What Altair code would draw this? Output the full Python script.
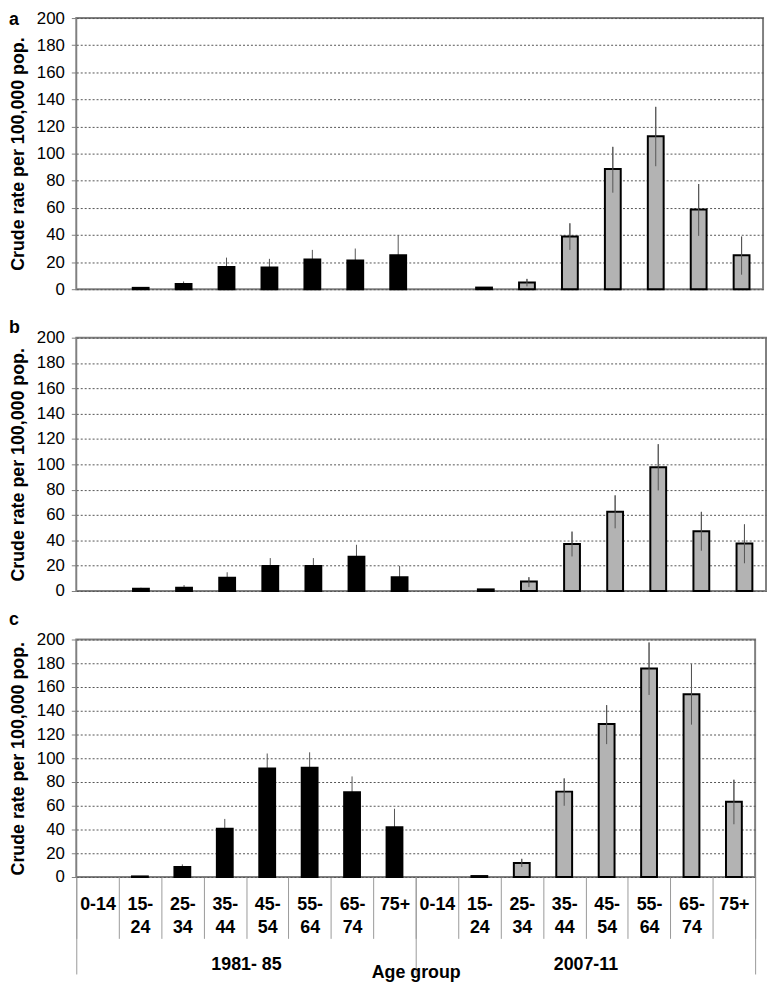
import json
import altair as alt
import pandas as pd

# ---------------- data ----------------
ages = ["0-14", "15-24", "25-34", "35-44", "45-54", "55-64", "65-74", "75+"]
periods = ["1981- 85", "2007-11"]
y_ticks = [0, 20, 40, 60, 80, 100, 120, 140, 160, 180, 200]

# panel a
a_rate_1981 = [None, 1.0, 3.8, 16.4, 16.0, 21.9, 21.2, 25.0]
a_hi_1981 = [None, 1.0, 5.7, 23.3, 22.4, 29.0, 30.0, 39.8]
a_lo_1981 = [None, 1.0, 1.9, 9.5, 9.6, 14.8, 12.4, 10.2]
a_rate_2007 = [None, 1.2, 5.0, 38.8, 88.6, 112.9, 58.8, 25.0]
a_hi_2007 = [None, 1.2, 7.6, 48.6, 105.0, 134.5, 77.6, 38.8]
a_lo_2007 = [None, 1.2, 2.1, 29.0, 71.2, 90.7, 39.3, 10.7]

# panel b
b_rate_1981 = [None, 1.8, 2.6, 10.4, 19.8, 19.8, 27.0, 10.9]
b_hi_1981 = [None, 2.6, 4.7, 14.8, 26.0, 26.0, 36.5, 19.8]
b_lo_1981 = [None, 1.0, 0.5, 6.0, 13.6, 13.6, 17.5, 2.0]
b_rate_2007 = [None, 1.3, 7.6, 37.2, 62.5, 97.7, 47.1, 37.5]
b_hi_2007 = [None, 1.3, 10.9, 46.9, 75.5, 115.9, 62.5, 52.6]
b_lo_2007 = [None, 1.3, 3.1, 27.3, 49.5, 79.4, 31.8, 21.9]

# panel c
c_rate_1981 = [None, 0.5, 8.4, 40.6, 91.4, 92.0, 71.4, 41.9]
c_hi_1981 = [None, 0.5, 10.6, 48.9, 104.0, 105.0, 84.7, 57.5]
c_lo_1981 = [None, 0.5, 6.2, 32.3, 78.8, 79.0, 58.1, 26.3]
c_rate_2007 = [None, 0.8, 11.7, 71.9, 128.9, 175.6, 153.9, 63.3]
c_hi_2007 = [None, 0.8, 15.3, 83.0, 144.7, 197.5, 179.2, 81.9]
c_lo_2007 = [None, 0.8, 8.4, 60.0, 111.9, 153.3, 128.3, 44.4]

FONT = "Liberation Sans"


def make_df(r1, h1, l1, r2, h2, l2):
    rows = []
    for p_i, (period, rr, hh, ll) in enumerate(
        [(periods[0], r1, h1, l1), (periods[1], r2, h2, l2)]
    ):
        for a_i, age in enumerate(ages):
            rows.append(
                dict(idx=p_i * len(ages) + a_i, period=period, age=age,
                     rate=rr[a_i], hi=hh[a_i], lo=ll[a_i])
            )
    return pd.DataFrame(rows)


def label_lines(age):
    if len(age) > 4:
        left, right = age.split("-")
        return [left + "-", right]
    return age


x_labels = [label_lines(a) for _ in periods for a in ages]
label_expr = json.dumps(x_labels) + "[datum.value]"
n_cats = len(periods) * len(ages)


def panel(letter, df, width, height, title_dy, bottom=False):
    if bottom:
        x_axis = alt.Axis(
            orient="bottom", tickBand="extent", tickSize=62, tickColor="#9a9a9a",
            domain=False, grid=False, labelExpr=label_expr, labelFontSize=18,
            labelFontWeight="bold", labelLineHeight=23, labelPadding=-43,
            labelAngle=0, labelOverlap=False, title=None,
        )
    else:
        x_axis = None
    X = alt.X(
        "idx:O",
        scale=alt.Scale(domain=list(range(n_cats)), paddingInner=0, paddingOuter=0),
        axis=x_axis,
    )
    yscale = alt.Scale(domain=[0, 200], nice=False)
    yaxis = alt.Axis(
        values=y_ticks, title="Crude rate per 100,000 pop.", titleFontSize=18,
        titleFontWeight="bold", titlePadding=9, labelFontSize=17, labelPadding=7,
        tickSize=5, tickColor="#808080", domain=False, grid=True,
        gridColor="#555555", gridDash=[2, 2], gridWidth=1, labelOverlap=False,
    )
    base = alt.Chart(df)
    rules_all = base.mark_rule(color="#555555", strokeWidth=1).encode(
        x=X, y=alt.Y("lo:Q", scale=yscale, axis=yaxis), y2="hi:Q"
    )
    bars = base.mark_bar(stroke="black", strokeWidth=2, size=16).encode(
        x=X,
        y=alt.Y("rate:Q", scale=yscale, axis=yaxis),
        color=alt.Color(
            "period:N",
            scale=alt.Scale(domain=periods, range=["#000000", "#b3b3b3"]),
            legend=None,
        ),
    )
    rules_gray = (
        base.mark_rule(color="#555555", strokeWidth=1)
        .encode(x=X, y=alt.Y("lo:Q", scale=yscale, axis=yaxis), y2="hi:Q")
        .transform_filter(alt.datum.period == periods[1])
    )
    main = alt.layer(rules_all, bars, rules_gray)
    if bottom:
        pdf = pd.DataFrame({"period": periods})
        period_layer = alt.Chart(pdf).mark_rule(opacity=0).encode(
            x=alt.X(
                "period:N",
                scale=alt.Scale(type="band", domain=periods, paddingInner=0, paddingOuter=0),
                axis=alt.Axis(
                    orient="bottom", tickBand="extent", tickSize=98, tickColor="#9a9a9a",
                    domain=False, grid=False, labelFontSize=18, labelFontWeight="bold",
                    labelPadding=-19, labelAngle=0, title="Age group", titleFontSize=18,
                    titleFontWeight="bold", titleY=97, titleBaseline="middle",
                ),
            )
        )
        main = alt.layer(main, period_layer).resolve_scale(x="independent")
    return main.properties(
        width=width,
        height=height,
        title=alt.TitleParams(
            letter, anchor="start", frame="group", dx=-68, dy=title_dy,
            fontSize=18, fontWeight="bold", baseline="bottom", offset=0, font=FONT,
        ),
    )


pa = panel("a", make_df(a_rate_1981, a_hi_1981, a_lo_1981, a_rate_2007, a_hi_2007, a_lo_2007), 694, 274, 38)
pb = panel("b", make_df(b_rate_1981, b_hi_1981, b_lo_1981, b_rate_2007, b_hi_2007, b_lo_2007), 697, 256, 26)
pc = panel("c", make_df(c_rate_1981, c_hi_1981, c_lo_1981, c_rate_2007, c_hi_2007, c_lo_2007), 686, 240, 16, bottom=True)

chart = (
    alt.vconcat(pa, pb, pc, spacing=49, bounds="flush")
    .properties(padding={"top": -5, "left": 0, "right": 0, "bottom": 0})
    .configure_view(stroke="#808080", strokeWidth=2)
    .configure_axis(labelFont=FONT, titleFont=FONT, labelColor="black", titleColor="black")
    .configure_title(font=FONT, color="black")
)

chart.save("out.html", embed_options={"renderer": "svg", "actions": False})
